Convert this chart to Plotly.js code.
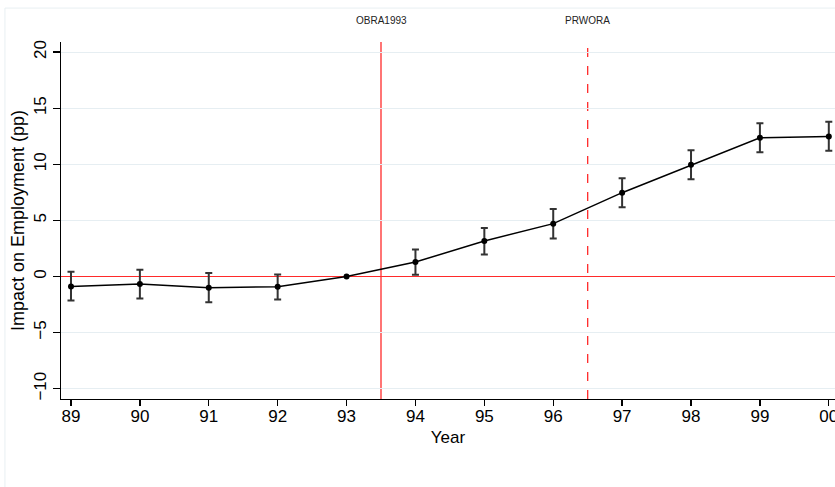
<!DOCTYPE html>
<html>
<head>
<meta charset="utf-8">
<script src="https://cdn.plot.ly/plotly-3.0.1.min.js"></script>
<style>html,body{margin:0;padding:0;background:#fff;}#chart{width:835px;height:487px;}</style>
</head>
<body>
<div id="chart"></div>
<script>
// ---- data ----
var years = [89, 90, 91, 92, 93, 94, 95, 96, 97, 98, 99, 100];
var tickLabels = ['89', '90', '91', '92', '93', '94', '95', '96', '97', '98', '99', '00'];
var coef   = [-0.89, -0.68, -1.00, -0.92, 0, 1.29, 3.16, 4.71, 7.47, 9.95, 12.36, 12.47];
var ciHigh = [0.42, 0.60, 0.30, 0.18, null, 2.41, 4.32, 6.01, 8.75, 11.25, 13.66, 13.79];
var ciLow  = [-2.14, -1.96, -2.29, -2.05, null, 0.15, 1.96, 3.39, 6.16, 8.66, 11.07, 11.20];
var eventYears  = [93.5, 96.5];
var eventLabels = ['OBRA1993', 'PRWORA'];
var eventDash   = ['solid', 'dash'];
var yTicks = [-10, -5, 0, 5, 10, 15, 20];

var errPlus = coef.map(function (c, i) { return ciHigh[i] == null ? NaN : ciHigh[i] - c; });
var errMinus = coef.map(function (c, i) { return ciLow[i] == null ? NaN : c - ciLow[i]; });

var trace = {
  x: years, y: coef, type: 'scatter', mode: 'lines+markers',
  line: {color: '#000', width: 1.5},
  marker: {color: '#000', size: 6},
  error_y: {type: 'data', symmetric: false, array: errPlus, arrayminus: errMinus,
            color: '#333', thickness: 2, width: 3.5},
  showlegend: false, hoverinfo: 'x+y'
};

var shapes = [
  {type: 'rect', xref: 'paper', yref: 'paper', x0: -0.0724, x1: 1.3, y0: -0.5, y1: 1.095,
   line: {color: '#e8eff2', width: 1}, fillcolor: 'rgba(0,0,0,0)', layer: 'below'}
];
var annotations = [];
eventYears.forEach(function (ey, i) {
  shapes.push({type: 'line', xref: 'x', yref: 'paper', x0: ey, x1: ey, y0: 0, y1: 1,
               line: {color: '#ff2a2a', width: 1.3, dash: eventDash[i]}, layer: 'below'});
  annotations.push({x: ey, xref: 'x', y: 1, yref: 'paper', yanchor: 'middle', yshift: 22,
                    text: eventLabels[i], showarrow: false,
                    font: {size: 10, color: '#222', family: 'Liberation Sans, Arial, sans-serif'}});
});

var layout = {
  width: 835, height: 487,
  margin: {l: 61, r: 0, t: 42, b: 88},
  paper_bgcolor: '#fff', plot_bgcolor: '#fff',
  font: {family: 'Liberation Sans, Arial, sans-serif', color: '#000', size: 17},
  xaxis: {
    range: [88.855, 100.09], tickvals: years, ticktext: tickLabels,
    ticks: 'outside', ticklen: 6, tickwidth: 1.3, tickcolor: '#000',
    showline: true, linecolor: '#000', linewidth: 1.3,
    showgrid: false, zeroline: false, ticklabeloverflow: 'allow',
    ticklabelstandoff: -5,
    tickfont: {size: 17},
    title: {text: 'Year', font: {size: 17}, standoff: 6}
  },
  yaxis: {
    range: [-10.92, 20.9], tickvals: yTicks, tickangle: -90,
    ticks: 'outside', ticklen: 7, tickwidth: 1.3, tickcolor: '#000',
    showline: true, linecolor: '#000', linewidth: 1.3,
    showgrid: true, gridcolor: '#e6eef2', gridwidth: 1,
    zeroline: true, zerolinecolor: '#ff2a2a', zerolinewidth: 1.3,
    tickfont: {size: 17},
    title: {text: 'Impact on Employment (pp)', font: {size: 18}, standoff: 1}
  },
  shapes: shapes,
  annotations: annotations
};

Plotly.newPlot('chart', [trace], layout, {displayModeBar: false, staticPlot: true});
</script>
</body>
</html>
